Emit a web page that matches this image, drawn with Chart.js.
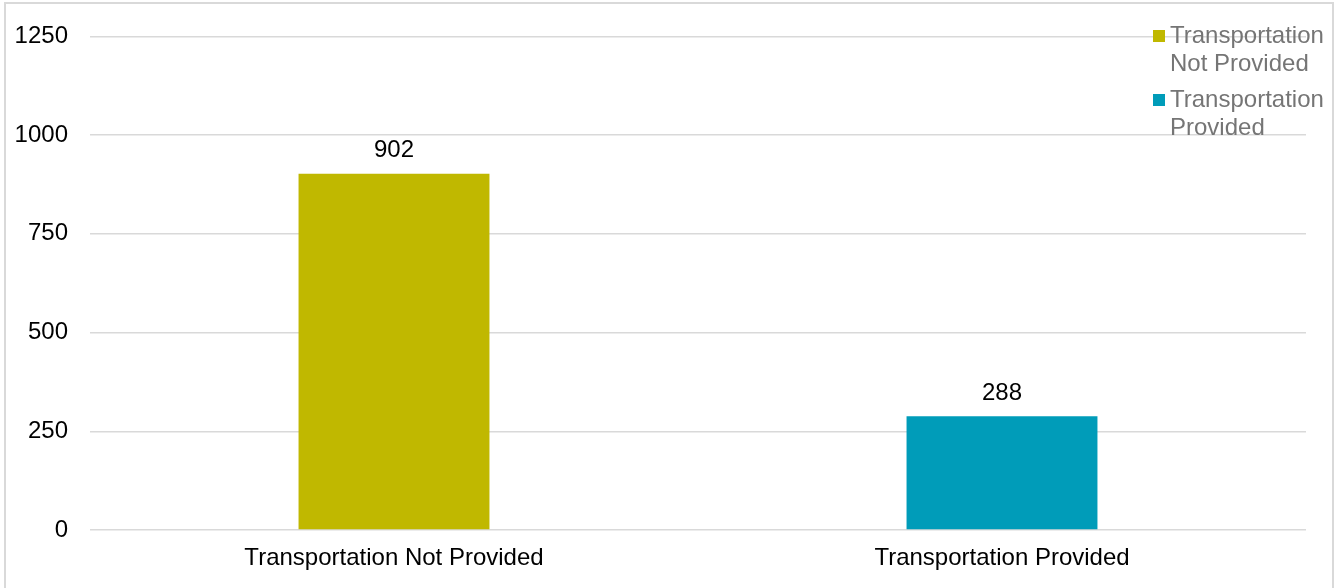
<!DOCTYPE html>
<html>
<head>
<meta charset="utf-8">
<title>Transportation</title>
<script src="https://cdn.jsdelivr.net/npm/chart.js@4"></script>
<style>
    html, body { margin: 0; padding: 0; background: #fff; }
    #wrap { position: relative; width: 1342px; height: 588px; }
    #frame { position: absolute; left: 4px; top: 2px; width: 1330px; height: 600px; border: 2px solid #d9d9d9; box-sizing: border-box; }
    #chart { position: absolute; left: 0; top: 0; }
</style>
</head>
<body>
<div id="wrap">
    <div id="frame"></div>
    <canvas id="chart" width="1342" height="588"></canvas>
</div>
<script>
var categories = ["Transportation Not Provided", "Transportation Provided"];
var counts = [902, 288];
var barColors = ["#c0b800", "#009cb9"];
var legendLines = [["Transportation", "Not Provided"], ["Transportation", "Provided"]];
var yTicks = [0, 250, 500, 750, 1000, 1250];

var FONT = "'Liberation Sans', Arial, sans-serif";

// value above each bar
var valueLabels = {
    id: "valueLabels",
    afterDatasetsDraw: function (chart) {
        var ctx = chart.ctx;
        var meta = chart.getDatasetMeta(0);
        ctx.save();
        ctx.font = "24px " + FONT;
        ctx.fillStyle = "#000";
        ctx.textAlign = "center";
        ctx.textBaseline = "middle";
        meta.data.forEach(function (bar, i) {
            ctx.fillText(String(counts[i]), bar.x, bar.y - 23);
        });
        ctx.restore();
    }
};

// legend sits over the top right corner of the plot
var cornerLegend = {
    id: "cornerLegend",
    afterDraw: function (chart) {
        var ctx = chart.ctx;
        var x = 1153, y = 36;
        ctx.save();
        ctx.font = "24px " + FONT;
        ctx.textBaseline = "middle";
        ctx.textAlign = "left";
        for (var i = 0; i < legendLines.length; i++) {
            ctx.fillStyle = barColors[i];
            ctx.fillRect(x, y - 6, 12, 12);
            ctx.fillStyle = "#757575";
            for (var j = 0; j < legendLines[i].length; j++) {
                ctx.fillText(legendLines[i][j], x + 17, y + j * 28);
            }
            y += 64;
        }
        ctx.restore();
    }
};

new Chart(document.getElementById("chart"), {
    type: "bar",
    data: {
        labels: categories,
        datasets: [{
            label: "Count",
            data: counts,
            backgroundColor: barColors,
            categoryPercentage: 1,
            barPercentage: 0.314
        }]
    },
    options: {
        responsive: false,
        animation: false,
        layout: { padding: { top: 36, right: 36, bottom: 0, left: 0 } },
        plugins: {
            legend: { display: false },
            tooltip: { enabled: false }
        },
        scales: {
            x: {
                grid: { display: false },
                border: { display: false },
                ticks: { color: "#000", font: { family: FONT, size: 24 }, padding: 6 },
                afterFit: function (s) { s.height = 58; }
            },
            y: {
                min: 0,
                max: 1250,
                afterBuildTicks: function (s) {
                    s.ticks = yTicks.map(function (v) { return { value: v }; });
                },
                grid: { color: "#d9d9d9", lineWidth: 1.5, drawTicks: false },
                border: { display: false },
                ticks: {
                    color: "#000",
                    font: { family: FONT, size: 24 },
                    padding: 22,
                    callback: function (v) { return String(v); }
                },
                afterFit: function (s) { s.width = 90; }
            }
        }
    },
    plugins: [valueLabels, cornerLegend]
});
</script>
</body>
</html>
